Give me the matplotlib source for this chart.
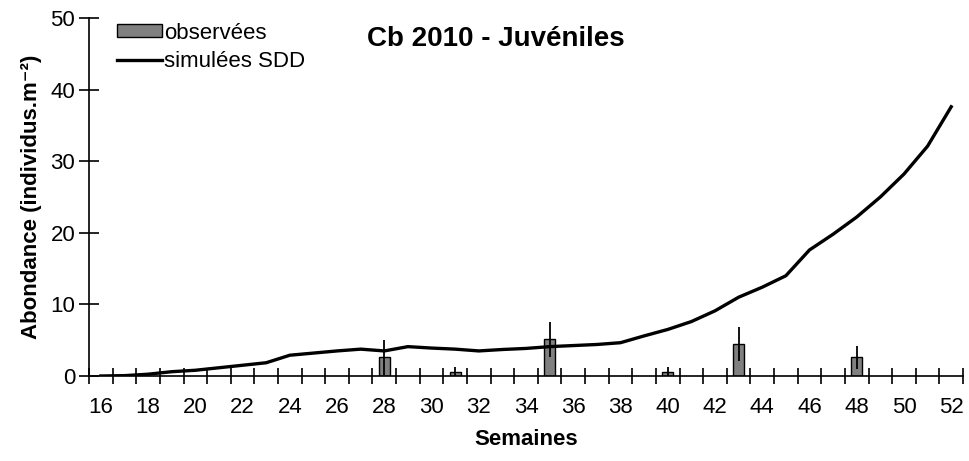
import numpy as np
import matplotlib
matplotlib.use("Agg")
import matplotlib.pyplot as plt
from matplotlib.patches import Patch
from matplotlib.lines import Line2D

plt.rcParams['font.family'] = ['Liberation Sans', 'DejaVu Sans']

# simulated SDD abundance, one value per week
weeks = list(range(16, 53))
sim = [0.0, 0.05, 0.25, 0.6, 0.8, 1.15, 1.5, 1.85, 2.9, 3.2, 3.5, 3.75, 3.5, 4.1, 3.9,
       3.75, 3.5, 3.7, 3.85, 4.1, 4.25, 4.4, 4.65, 5.6, 6.5, 7.6, 9.1, 11.0, 12.4, 14.0,
       17.6, 19.8, 22.2, 25.0, 28.2, 32.1, 37.6]

# observed juveniles
obs_weeks = [28, 31, 35, 40, 43, 48]
obs = [2.6, 0.6, 5.1, 0.6, 4.5, 2.6]
obs_err = [2.4, 0.6, 2.4, 0.6, 2.35, 1.6]

fig = plt.figure(figsize=(9.7, 4.61), dpi=100)
ax = fig.add_axes([0.0918, 0.1844, 0.901, 0.7766])

ax.bar(obs_weeks, obs, width=0.47, color="#808080", edgecolor="black", linewidth=1.0, zorder=2)
ax.errorbar(obs_weeks, obs, yerr=obs_err, fmt="none", ecolor="black", elinewidth=1.3,
            capsize=0, zorder=3)
ax.plot(weeks, sim, color="black", lw=2.4, zorder=4)

ax.set_xlim(15.5, 52.5)
ax.set_ylim(0, 50)
ax.set_yticks(range(0, 51, 10))
ax.set_xticks(range(16, 53, 2))
ax.set_xticks(np.arange(15.5, 53, 1), minor=True)
ax.tick_params(axis="x", which="major", length=0, pad=15, labelsize=16)
ax.tick_params(axis="x", which="minor", direction="inout", length=12, width=1.2)
ax.tick_params(axis="y", direction="inout", length=14, width=1.2, labelsize=16, pad=3)
for s in ("top", "right"):
    ax.spines[s].set_visible(False)
ax.spines["left"].set_linewidth(1.2)
ax.spines["bottom"].set_linewidth(1.2)

ax.set_xlabel("Semaines", fontsize=16, fontweight="bold", labelpad=8)
ax.set_ylabel("Abondance (individus.m⁻²)", fontsize=16, fontweight="bold", labelpad=6)
ax.text(0.465, 0.94, "Cb 2010 - Juvéniles", transform=ax.transAxes, ha="center",
        va="center", fontsize=20, fontweight="bold")

handles = [Patch(facecolor="#808080", edgecolor="black", linewidth=1.0),
           Line2D([], [], color="black", lw=2.4)]
ax.legend(handles, ["observées", "simulées SDD"], loc="upper left",
          bbox_to_anchor=(0.022, 1.012), frameon=False, fontsize=16,
          handlelength=2.0, handleheight=0.55, handletextpad=0.1, labelspacing=0.35,
          borderaxespad=0.0)

fig.savefig("out.png", dpi=100)
